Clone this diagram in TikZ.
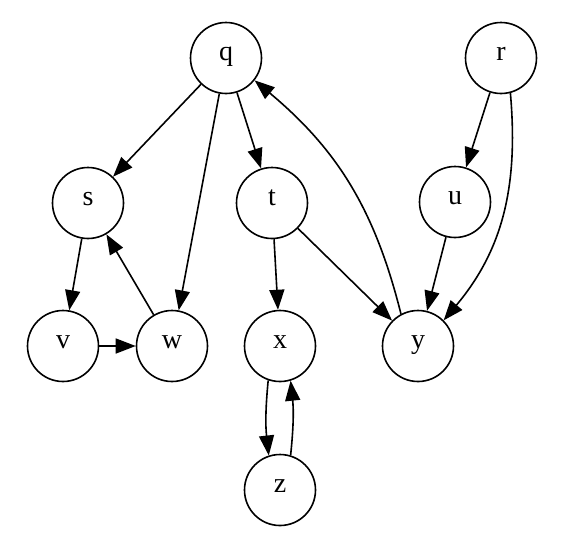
\documentclass[tikz,border=0pt]{standalone}
\usepackage{fontspec}
\setmainfont{Liberation Serif}
\usetikzlibrary{arrows.meta}
\begin{document}
\begin{tikzpicture}[x=1pt,y=-1pt,
  vert/.style={draw,circle,line width=1.6pt,minimum size=71pt,inner sep=0pt,
    font=\fontsize{28}{28}\selectfont,text height=1.2ex,text depth=0pt},
  edge/.style={line width=1.6pt,-{Triangle[length=20pt,width=15pt]}}]
\useasboundingbox (0,0) rectangle (564,550);
\node[vert] (q) at (226,58) {q};
\node[vert] (r) at (501,58) {r};
\node[vert] (s) at (88,203) {s};
\node[vert] (t) at (272,203) {t};
\node[vert] (u) at (455,202) {u};
\node[vert] (v) at (63,346) {v};
\node[vert] (w) at (172,346) {w};
\node[vert] (x) at (280,346) {x};
\node[vert] (y) at (418,346) {y};
\node[vert] (z) at (280,490) {z};
\draw[edge] (q) -- (s);
\draw[edge] (q) -- (w);
\draw[edge] (q) -- (t);
\draw[edge] (y.118) to[bend right=18] (q.-38);
\draw[edge] (r) -- (u);
\draw[edge] (r.-75) to[out=-85,in=50] (y.45);
\draw[edge] (s) -- (v);
\draw[edge] (w) -- (s);
\draw[edge] (v) -- (w);
\draw[edge] (t) -- (x);
\draw[edge] (t) -- (y);
\draw[edge] (u) -- (y);
\draw[edge] (x.251) to[bend right=6] (z.108);
\draw[edge] (z.73) to[bend right=6] (x.287);
\end{tikzpicture}
\end{document}
